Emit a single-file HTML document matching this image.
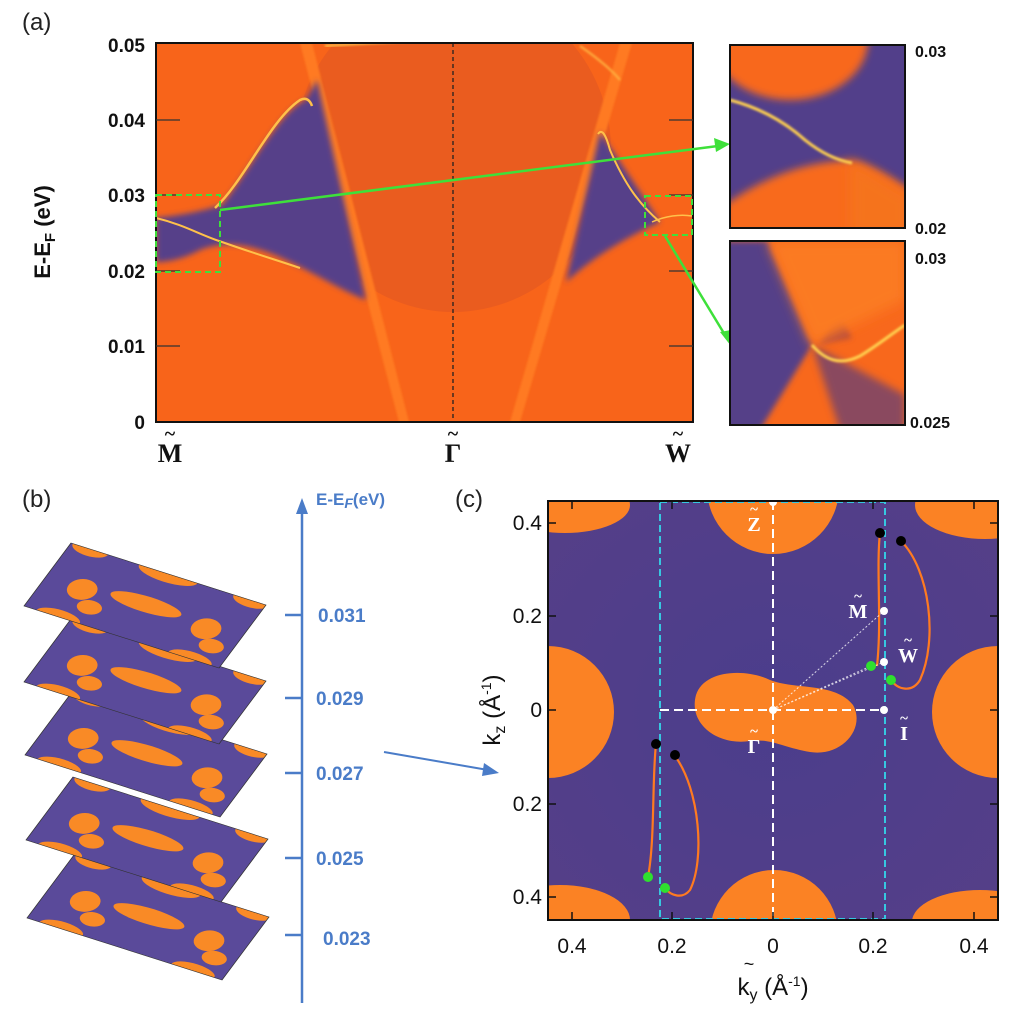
<!DOCTYPE html>
<html><head><meta charset="utf-8"><style>
html,body{margin:0;padding:0;background:#fff;}
svg{display:block;font-family:"Liberation Sans",sans-serif;}
</style></head><body>
<svg width="1024" height="1013" viewBox="0 0 1024 1013" xmlns="http://www.w3.org/2000/svg">
<defs>
<filter id="b3" x="-20%" y="-20%" width="140%" height="140%"><feGaussianBlur stdDeviation="3"/></filter>
<filter id="b4" x="-20%" y="-20%" width="140%" height="140%"><feGaussianBlur stdDeviation="4"/></filter>
<filter id="b6" x="-20%" y="-20%" width="140%" height="140%"><feGaussianBlur stdDeviation="6"/></filter>
<filter id="b1"><feGaussianBlur stdDeviation="1"/></filter>
<clipPath id="ca"><rect x="156" y="43" width="537" height="379"/></clipPath>
<clipPath id="ci1"><rect x="730" y="45" width="175" height="183"/></clipPath>
<clipPath id="ci2"><rect x="730" y="241" width="175" height="184"/></clipPath>
<clipPath id="cc"><rect x="548" y="501" width="450" height="419"/></clipPath>
<clipPath id="cp"><rect x="0" y="0" width="100" height="200"/></clipPath>
<radialGradient id="vg" cx="0.5" cy="0.5" r="0.7"><stop offset="0" stop-color="#4b3d8c"/><stop offset="1" stop-color="#553f88"/></radialGradient>
<g id="plane">
 <rect x="0" y="0" width="100" height="200" fill="#5a4a9a"/>
 <g clip-path="url(#cp)" fill="#f98a26">
  <ellipse cx="52" cy="100" rx="11" ry="36"/>
  <ellipse cx="45" cy="38" rx="15" ry="14"/>
  <ellipse cx="45" cy="165" rx="15" ry="14"/>
  <ellipse cx="0" cy="35" rx="10" ry="22"/>
  <ellipse cx="0" cy="170" rx="10" ry="22"/>
  <ellipse cx="100" cy="100" rx="12" ry="30"/>
  <ellipse cx="100" cy="20" rx="10" ry="18"/>
  <ellipse cx="100" cy="185" rx="10" ry="18"/>
  <ellipse cx="25" cy="55" rx="10" ry="12"/>
  <ellipse cx="25" cy="180" rx="10" ry="12"/>
 </g>
 <rect x="0" y="0" width="100" height="200" fill="none" stroke="#333" stroke-width="0.8"/>
</g>
</defs>

<!-- ===== Panel (a) ===== -->
<text x="22" y="30" font-size="24" fill="#222">(a)</text>
<g clip-path="url(#ca)">
 <rect x="156" y="43" width="537" height="379" fill="#f8641a"/>
 <ellipse cx="453" cy="150" rx="158" ry="162" fill="#ea5c1f"/>
 <polygon points="300,43 312,43 409,422 399,422" fill="#ff7a22" filter="url(#b1)"/>
 <polygon points="620,43 632,43 520,422 510,422" fill="#ff7a22" filter="url(#b1)"/>
 <path d="M156,218 C185,215 205,210 222,205 C250,170 280,110 306,100 L317,80 L366,300 C340,290 310,270 275,255 C250,245 225,240 200,250 C185,258 170,262 156,262 Z" fill="#574089" filter="url(#b3)"/>
 <path d="M156,218 C185,225 200,235 222,242 C250,252 270,258 300,268" fill="none" stroke="#ffc14a" stroke-width="2"/>
 <path d="M215,208 C245,180 270,120 300,100 C306,97 310,100 312,106" fill="none" stroke="#ffc14a" stroke-width="2.5"/>
 <path d="M600,132 L566,282 C590,260 620,240 660,222 Z" fill="#574089" filter="url(#b3)"/>
 <path d="M598,134 C602,128 606,135 610,150 C625,185 640,205 660,222" fill="none" stroke="#ffc14a" stroke-width="2"/>
 <path d="M652,222 C665,216 680,214 692,216" fill="none" stroke="#ffc14a" stroke-width="1.5"/>
 <path d="M325,46 C380,42 420,40 453,40" fill="none" stroke="#ffb040" stroke-width="3" filter="url(#b1)"/>
 <path d="M580,46 C600,60 612,70 620,80" fill="none" stroke="#ffb040" stroke-width="2" filter="url(#b1)"/>
 <line x1="453" y1="43" x2="453" y2="422" stroke="#222" stroke-width="1.3" stroke-dasharray="4,3"/>
</g>
<rect x="156" y="43" width="537" height="379" fill="none" stroke="#111" stroke-width="2"/>
<g stroke="#333" stroke-width="1.2">
 <line x1="156" y1="120" x2="180" y2="120"/><line x1="156" y1="195" x2="180" y2="195"/><line x1="156" y1="271" x2="180" y2="271"/><line x1="156" y1="346" x2="180" y2="346"/>
 <line x1="669" y1="120" x2="693" y2="120"/><line x1="669" y1="195" x2="693" y2="195"/><line x1="669" y1="271" x2="693" y2="271"/><line x1="669" y1="346" x2="693" y2="346"/>
</g>
<g stroke="#3ee03a" stroke-width="2" fill="none">
 <rect x="156" y="195" width="64" height="77" stroke-dasharray="6,4"/>
 <rect x="645" y="196" width="47" height="39" stroke-dasharray="6,4"/>
 <line x1="220" y1="210" x2="718" y2="146" stroke-width="2.5"/>
 <line x1="665" y1="236" x2="725" y2="335" stroke-width="2.5"/>
</g>
<polygon points="730,144 714,138 716,152" fill="#3ee03a"/>
<polygon points="731,346 720,332 731,330" fill="#3ee03a"/>
<g font-size="19" font-weight="bold" fill="#111" text-anchor="end">
 <text x="145" y="52">0.05</text><text x="145" y="127">0.04</text><text x="145" y="202">0.03</text>
 <text x="145" y="278">0.02</text><text x="145" y="353">0.01</text><text x="145" y="429">0</text>
</g>
<text transform="translate(50,232) rotate(-90)" font-size="22" font-weight="bold" fill="#111" text-anchor="middle">E-E<tspan font-size="15" dy="5">F</tspan><tspan dy="-5"> (eV)</tspan></text>
<g font-family="Liberation Serif,serif" font-size="26" font-weight="bold" fill="#111" text-anchor="middle">
 <text x="170" y="462">M</text><text x="170" y="440" font-size="20">~</text>
 <text x="453" y="462">Γ</text><text x="453" y="440" font-size="20">~</text>
 <text x="678" y="462">W</text><text x="678" y="440" font-size="20">~</text>
</g>

<!-- insets -->
<g clip-path="url(#ci1)">
 <rect x="730" y="45" width="175" height="183" fill="#523f8a"/>
 <ellipse cx="790" cy="40" rx="78" ry="60" fill="#f8681c" filter="url(#b4)"/>
 <path d="M725,205 C760,180 800,162 850,160 C875,165 895,180 910,190 L910,235 L725,235 Z" fill="#f86a1e" filter="url(#b4)"/>
 <path d="M850,160 C870,170 890,185 910,195 L910,235 L850,235 Z" fill="#f5731f" filter="url(#b6)"/>
 <path d="M730,100 C760,108 785,122 805,140 C820,152 835,160 852,163" fill="none" stroke="#ffd050" stroke-width="3" filter="url(#b1)"/>
</g>
<rect x="730" y="45" width="175" height="183" fill="none" stroke="#111" stroke-width="2"/>
<g clip-path="url(#ci2)">
 <rect x="730" y="241" width="175" height="184" fill="#f8681c"/>
 <polygon points="725,241 768,241 812,345 760,430 725,430" fill="#553f88" filter="url(#b3)"/>
 <polygon points="812,345 905,395 905,430 840,430" fill="#8a4a5e" filter="url(#b4)"/>
 <polygon points="838,313 818,345 852,338" fill="#b84d3c" filter="url(#b3)"/>
 <polygon points="768,241 905,241 905,300 812,345" fill="#fb7a22" filter="url(#b6)"/>
 <path d="M812,345 C825,360 840,366 860,356 C878,345 890,335 905,325" fill="none" stroke="#ffd050" stroke-width="3" filter="url(#b1)"/>
</g>
<rect x="730" y="241" width="175" height="184" fill="none" stroke="#111" stroke-width="2"/>
<g font-size="16" font-weight="bold" fill="#111">
 <text x="915" y="57">0.03</text><text x="915" y="234">0.02</text>
 <text x="915" y="264">0.03</text><text x="910" y="428">0.025</text>
</g>

<!-- ===== Panel (b) ===== -->
<text x="22" y="507" font-size="24" fill="#222">(b)</text>
<g fill="#4a7cc8" stroke="#4a7cc8">
 <line x1="302" y1="1003" x2="302" y2="512" stroke-width="2.5"/>
 <polygon points="302,498 296,514 308,514" stroke="none"/>
 <g stroke-width="2.5"><line x1="285" y1="615" x2="302" y2="615"/><line x1="285" y1="698" x2="302" y2="698"/><line x1="285" y1="773" x2="302" y2="773"/><line x1="285" y1="858" x2="302" y2="858"/><line x1="285" y1="935" x2="302" y2="935"/></g>
 <line x1="384" y1="752" x2="488" y2="770" stroke-width="2"/>
 <polygon points="499,773 484,763 482,776" stroke="none"/>
</g>
<g font-size="19" fill="#4a7cc8" font-weight="bold">
 <text x="318" y="622">0.031</text><text x="316" y="705">0.029</text><text x="316" y="780">0.027</text>
 <text x="316" y="865">0.025</text><text x="323" y="945">0.023</text>
 <text x="316" y="505" font-size="17">E-E<tspan font-style="italic" font-size="14" dy="3">F</tspan><tspan dy="-3">(eV)</tspan></text>
</g>
<g>
 <use href="#plane" transform="matrix(0.47,-0.63,0.975,0.31,27,918)"/>
 <use href="#plane" transform="matrix(0.47,-0.63,0.975,0.31,26,840)"/>
 <use href="#plane" transform="matrix(0.47,-0.63,0.975,0.31,25,755)"/>
 <use href="#plane" transform="matrix(0.47,-0.63,0.975,0.31,24,682)"/>
 <use href="#plane" transform="matrix(0.47,-0.63,0.975,0.31,24,606)"/>
</g>

<!-- ===== Panel (c) ===== -->
<text x="455" y="507" font-size="24" fill="#222">(c)</text>
<g clip-path="url(#cc)">
 <rect x="548" y="501" width="450" height="419" fill="url(#vg)"/>
 <g fill="#fb8224">
  <circle cx="773" cy="488" r="66"/>
  <circle cx="774" cy="934" r="64"/>
  <circle cx="548" cy="712" r="66"/>
  <circle cx="998" cy="712" r="66"/>
  <ellipse cx="565" cy="505" rx="65" ry="28"/>
  <ellipse cx="985" cy="505" rx="70" ry="34"/>
  <ellipse cx="560" cy="920" rx="70" ry="35"/>
  <ellipse cx="980" cy="922" rx="68" ry="32"/>
  <path d="M696,695 C704,670 745,668 770,680 C795,690 835,682 853,705 C866,728 842,757 810,752 C785,748 770,738 750,741 C718,746 688,724 696,695 Z"/>
 </g>
 <g fill="none" stroke="#ff7a20" stroke-width="2.2">
  <path d="M880,532 C876,570 882,620 877,666"/>
  <path d="M901,541 C930,570 938,640 920,680 C912,693 898,690 891,680"/>
  <path d="M656,744 C652,780 655,840 648,877"/>
  <path d="M675,756 C700,790 705,860 690,890 C682,900 670,895 665,888"/>
 </g>
 <g stroke="#fff" stroke-width="1" stroke-dasharray="2,2" opacity="0.8">
  <line x1="773" y1="710" x2="884" y2="611"/><line x1="773" y1="710" x2="884" y2="662"/><line x1="773" y1="710" x2="871" y2="666"/>
 </g>
 <g stroke="#fff" stroke-width="2" stroke-dasharray="9,5">
  <line x1="773" y1="501" x2="773" y2="920"/><line x1="660" y1="710" x2="884" y2="710"/>
 </g>
 <g stroke="#36c8e0" stroke-width="2" stroke-dasharray="7,4" fill="none">
  <rect x="660" y="502" width="225" height="417"/>
 </g>
 <g fill="#000"><circle cx="880" cy="533" r="5"/><circle cx="901" cy="541" r="5"/><circle cx="656" cy="744" r="5"/><circle cx="675" cy="755" r="5"/></g>
 <g fill="#2fe02f"><circle cx="871" cy="666" r="5"/><circle cx="891" cy="680" r="5"/><circle cx="648" cy="877" r="5"/><circle cx="665" cy="888" r="5"/></g>
 <g fill="#fff"><circle cx="884" cy="611" r="4"/><circle cx="884" cy="662" r="4"/><circle cx="884" cy="710" r="4"/><circle cx="773" cy="710" r="4"/><circle cx="773" cy="502" r="4"/></g>
 <g font-family="Liberation Serif,serif" font-size="20" font-weight="bold" fill="#fff" text-anchor="middle">
  <text x="754" y="531">Z</text><text x="754" y="514" font-size="15">~</text>
  <text x="858" y="618">M</text><text x="858" y="601" font-size="15">~</text>
  <text x="908" y="662">W</text><text x="908" y="645" font-size="15">~</text>
  <text x="904" y="740">I</text><text x="904" y="723" font-size="15">~</text>
  <text x="754" y="753">Γ</text><text x="754" y="736" font-size="15">~</text>
 </g>
</g>
<rect x="548" y="501" width="450" height="419" fill="none" stroke="#111" stroke-width="2"/>
<g stroke="#111" stroke-width="1.5">
 <line x1="548" y1="523" x2="556" y2="523"/><line x1="548" y1="616" x2="556" y2="616"/><line x1="548" y1="710" x2="556" y2="710"/><line x1="548" y1="804" x2="556" y2="804"/><line x1="548" y1="897" x2="556" y2="897"/>
 <line x1="990" y1="523" x2="998" y2="523"/><line x1="990" y1="616" x2="998" y2="616"/><line x1="990" y1="710" x2="998" y2="710"/><line x1="990" y1="804" x2="998" y2="804"/><line x1="990" y1="897" x2="998" y2="897"/>
 <line x1="572" y1="912" x2="572" y2="920"/><line x1="672" y1="912" x2="672" y2="920"/><line x1="773" y1="912" x2="773" y2="920"/><line x1="873" y1="912" x2="873" y2="920"/><line x1="974" y1="912" x2="974" y2="920"/>
 <line x1="572" y1="501" x2="572" y2="509"/><line x1="672" y1="501" x2="672" y2="509"/><line x1="873" y1="501" x2="873" y2="509"/><line x1="974" y1="501" x2="974" y2="509"/>
</g>
<g font-size="21" fill="#111" text-anchor="end">
 <text x="542" y="530">0.4</text><text x="542" y="623">0.2</text><text x="542" y="717">0</text><text x="542" y="811">0.2</text><text x="542" y="904">0.4</text>
</g>
<g font-size="21" fill="#111" text-anchor="middle">
 <text x="572" y="953">0.4</text><text x="672" y="953">0.2</text><text x="773" y="953">0</text><text x="873" y="953">0.2</text><text x="974" y="953">0.4</text>
</g>
<text x="773" y="995" font-size="24" fill="#111" text-anchor="middle">k<tspan font-size="16" dy="5">y</tspan><tspan dy="-5">  (Å</tspan><tspan font-size="14" dy="-9">-1</tspan><tspan dy="9">)</tspan></text>
<text x="749" y="970" font-size="18" fill="#111" text-anchor="middle">~</text>
<text transform="translate(500,710) rotate(-90)" font-size="24" fill="#111" text-anchor="middle">k<tspan font-size="16" dy="5">z</tspan><tspan dy="-5">  (Å</tspan><tspan font-size="14" dy="-9">-1</tspan><tspan dy="9">)</tspan></text>
</svg>
</body></html>
